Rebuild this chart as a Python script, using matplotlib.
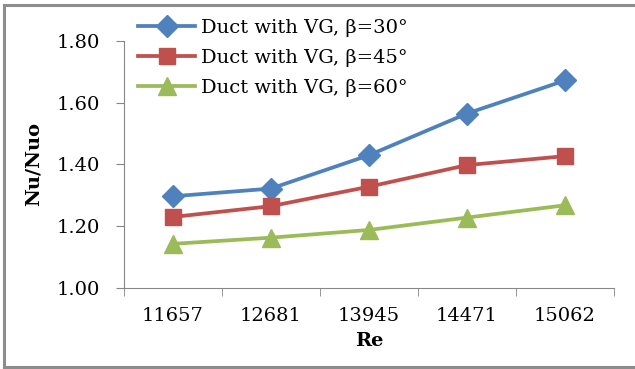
import numpy as np
import matplotlib.pyplot as plt
from matplotlib.lines import Line2D

# Nu/Nuo ratio versus Reynolds number for three VG angles
re_labels = ["11657", "12681", "13945", "14471", "15062"]
nu_30 = [1.297, 1.322, 1.430, 1.565, 1.672]
nu_45 = [1.230, 1.265, 1.328, 1.398, 1.427]
nu_60 = [1.143, 1.163, 1.188, 1.228, 1.268]
series_names = ["Duct with VG, β=30°", "Duct with VG, β=45°", "Duct with VG, β=60°"]

plt.rcParams['font.family'] = ['DejaVu Serif']

fig = plt.figure(figsize=(6.35, 3.69), dpi=100)
ax = fig.add_axes([0.195, 0.2195, 0.772, 0.6695])

x = np.arange(len(re_labels))
ax.plot(x, nu_30, color='#4F81BD', lw=2.7, marker='D', ms=11.5, label=series_names[0])
ax.plot(x, nu_45, color='#C0504D', lw=2.7, marker='s', ms=12, label=series_names[1])
ax.plot(x, nu_60, color='#9BBB59', lw=2.7, marker='^', ms=13.5, label=series_names[2])

ax.set_xlim(-0.5, len(re_labels) - 0.5)
ax.set_ylim(1.0, 1.8)
yt = np.arange(1.0, 1.81, 0.2)
ax.set_yticks(yt)
ax.set_yticklabels([f"{v:.2f}" for v in yt], fontsize=14)
ax.set_xticks(x)
ax.set_xticklabels(re_labels, fontsize=14)
ax.set_xticks(np.arange(-0.5, len(re_labels)), minor=True)
ax.tick_params(axis='x', which='major', length=0, pad=14)
ax.tick_params(axis='x', which='minor', length=6, color='#868686', direction='out')
ax.tick_params(axis='y', length=6, color='#868686', direction='out', pad=11)

for side in ['top', 'right']:
    ax.spines[side].set_visible(False)
for side in ['left', 'bottom']:
    ax.spines[side].set_color('#868686')

ax.set_xlabel("Re", fontsize=14, fontweight='bold', labelpad=5)
ax.set_ylabel("Nu/Nuo", fontsize=14, fontweight='bold', labelpad=10)

ax.legend(loc='upper left', bbox_to_anchor=(0.01, 1.13), frameon=False,
          fontsize=14, handlelength=2.9, handletextpad=0.3, labelspacing=0.62,
          borderpad=0)

# gray frame round the chart
fig.add_artist(Line2D([0.006, 0.006], [0.005, 0.987], color='#8c8c8c', lw=2.2,
                      transform=fig.transFigure))
fig.add_artist(Line2D([0.006, 1.0], [0.987, 0.987], color='#8c8c8c', lw=2.2,
                      transform=fig.transFigure))
fig.add_artist(Line2D([0.006, 1.0], [0.005, 0.005], color='#8c8c8c', lw=2.2,
                      transform=fig.transFigure))

fig.savefig("out.png", dpi=100)
